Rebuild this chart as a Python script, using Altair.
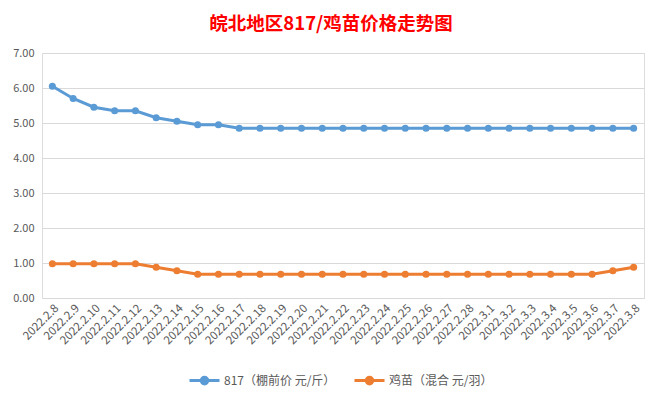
import altair as alt
import pandas as pd

dates = ["2022.2.8", "2022.2.9", "2022.2.10", "2022.2.11", "2022.2.12", "2022.2.13",
         "2022.2.14", "2022.2.15", "2022.2.16", "2022.2.17", "2022.2.18", "2022.2.19",
         "2022.2.20", "2022.2.21", "2022.2.22", "2022.2.23", "2022.2.24", "2022.2.25",
         "2022.2.26", "2022.2.27", "2022.2.28", "2022.3.1", "2022.3.2", "2022.3.3",
         "2022.3.4", "2022.3.5", "2022.3.6", "2022.3.7", "2022.3.8"]

series_names = ["817（棚前价 元/斤）", "鸡苗（混合 元/羽）"]

price_817 = [6.05, 5.70, 5.45, 5.35, 5.35, 5.15, 5.05, 4.95, 4.95, 4.85, 4.85, 4.85,
             4.85, 4.85, 4.85, 4.85, 4.85, 4.85, 4.85, 4.85, 4.85, 4.85, 4.85, 4.85,
             4.85, 4.85, 4.85, 4.85, 4.85]
price_chick = [0.98, 0.98, 0.98, 0.98, 0.98, 0.88, 0.78, 0.68, 0.68, 0.68, 0.68, 0.68,
               0.68, 0.68, 0.68, 0.68, 0.68, 0.68, 0.68, 0.68, 0.68, 0.68, 0.68, 0.68,
               0.68, 0.68, 0.68, 0.78, 0.88]

colors = ["#5B9BD5", "#ED7D31"]

rows = []
for d, v in zip(dates, price_817):
    rows.append({"date": d, "series": series_names[0], "value": v})
for d, v in zip(dates, price_chick):
    rows.append({"date": d, "series": series_names[1], "value": v})
df = pd.DataFrame(rows)

font = "Noto Sans CJK SC"

chart = alt.Chart(df).mark_line(
    strokeWidth=3,
    point=alt.OverlayMarkDef(filled=True, size=50),
).encode(
    x=alt.X("date:N", sort=dates, title=None,
            axis=alt.Axis(labelAngle=-45, labelFontSize=11.5, labelColor="#595959",
                          labelFont=font, ticks=False, domain=False, grid=False,
                          labelPadding=4)),
    y=alt.Y("value:Q", title=None,
            scale=alt.Scale(domain=[0, 7], nice=False),
            axis=alt.Axis(values=[0, 1, 2, 3, 4, 5, 6, 7], format=".2f",
                          labelFontSize=11, labelColor="#595959", labelFont=font,
                          ticks=False, domain=False, gridColor="#D9D9D9",
                          labelPadding=8)),
    color=alt.Color("series:N", sort=series_names,
                    scale=alt.Scale(domain=series_names, range=colors),
                    legend=alt.Legend(title=None, orient="none", direction="horizontal",
                                      legendX=146, legendY=311,
                                      labelFont=font, labelFontSize=12,
                                      labelColor="#595959",
                                      symbolType="M-1,0L1,0M0.22,0A0.22,0.22,0,1,1,-0.22,0A0.22,0.22,0,1,1,0.22,0Z",
                                      symbolSize=900, symbolStrokeWidth=3,
                                      labelOffset=3,
                                      columnPadding=12)),
).properties(
    width=602,
    height=245,
    title=alt.TitleParams("皖北地区817/鸡苗价格走势图", color="#FF0000", fontSize=18.5,
                          font=font, fontWeight="bold", anchor="middle", dx=-12,
                          offset=14),
    autosize=alt.AutoSizeParams(type="none"),
    padding={"left": 34, "top": 45, "right": 10, "bottom": 89},
).configure_view(stroke=None).configure(background="white")

chart.save("out.html", embed_options={"renderer": "svg", "actions": False})
